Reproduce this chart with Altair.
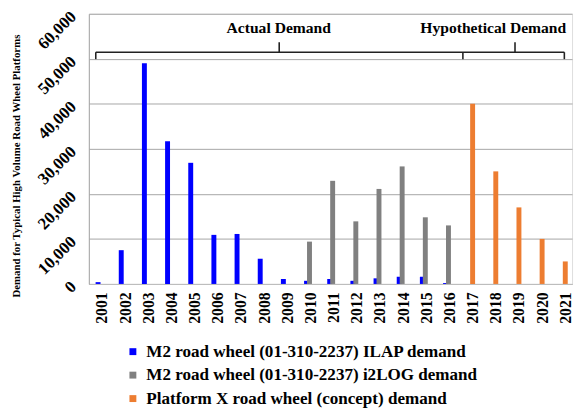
import altair as alt
import pandas as pd

# ---- data ----
years = list(range(2001, 2022))
ilap_years = list(range(2001, 2017))
ilap_values = [400, 7500, 49000, 31700, 26900, 10900, 11100, 5600, 1100, 700,
               1100, 700, 1250, 1600, 1600, 200]
i2log_years = list(range(2010, 2017))
i2log_values = [9400, 22900, 13900, 21100, 26100, 14800, 13000]
platx_years = list(range(2017, 2022))
platx_values = [40000, 25000, 17000, 10000, 5000]
series_names = ["M2 road wheel (01-310-2237) ILAP demand",
                "M2 road wheel (01-310-2237) i2LOG demand",
                "Platform X road wheel (concept) demand"]
series_colors = ["#0000ff", "#808080", "#ed7d31"]
y_ticks = [0, 10000, 20000, 30000, 40000, 50000, 60000]
y_title = "Demand for Typical High Volume Road Wheel Platforms"
brace_labels = ["Actual Demand", "Hypothetical Demand"]

rows = []
for yr, v in zip(ilap_years, ilap_values):
    rows.append({"year": yr, "value": v, "series": series_names[0]})
for yr, v in zip(i2log_years, i2log_values):
    rows.append({"year": yr, "value": v, "series": series_names[1]})
for yr, v in zip(platx_years, platx_values):
    rows.append({"year": yr, "value": v, "series": series_names[2]})
df = pd.DataFrame(rows)

# brace annotation (data units)
brace_y, hook_y, tip_y = 51460, 49920, 53650
left_end, cusp, right_end = 2000.73, 2016.58, 2020.96
mid_a, mid_h = 2008.65, 2018.83
segs = pd.DataFrame([
    {"year": left_end, "year2": right_end, "value": brace_y, "value2": brace_y},
    {"year": left_end, "year2": left_end, "value": hook_y, "value2": brace_y},
    {"year": cusp, "year2": cusp, "value": hook_y, "value2": brace_y},
    {"year": right_end, "year2": right_end, "value": hook_y, "value2": brace_y},
    {"year": mid_a, "year2": mid_a, "value": brace_y, "value2": tip_y},
    {"year": mid_h, "year2": mid_h, "value": brace_y, "value2": tip_y},
])
texts = pd.DataFrame([
    {"year": 2008.63, "value": 56930, "t": brace_labels[0]},
    {"year": 2017.89, "value": 56930, "t": brace_labels[1]},
])

FONT = "Liberation Serif"
xscale = alt.Scale(domain=[2000.645, 2021.08], nice=False, zero=False)
yscale = alt.Scale(domain=[0, 60000], nice=False)
color = alt.Color("series:N",
                  scale=alt.Scale(domain=series_names, range=series_colors),
                  sort=series_names,
                  legend=alt.Legend(title=None, orient="none", legendX=36, legendY=334,
                                    symbolType="square", symbolSize=49,
                                    symbolStrokeWidth=0, labelFont=FONT,
                                    labelFontSize=17.3, labelFontWeight="bold",
                                    labelColor="black", labelLimit=0,
                                    rowPadding=5.8, labelOffset=5, padding=0))

xaxis = alt.Axis(title=None, values=years, format="d", labelAngle=270,
                 labelAlign="right", labelBaseline="middle",
                 labelFont=FONT, labelFontSize=16, labelFontWeight="bold",
                 labelColor="black", labelPadding=8, ticks=False,
                 grid=False, domainColor="#bfbfbf", labelFlush=False,
                 labelOverlap=False)
yaxis = alt.Axis(title=y_title, values=y_ticks, format=",d",
                 labelAngle=315, labelAlign="right", labelBaseline="middle",
                 labelFont=FONT, labelFontSize=17, labelFontWeight="bold",
                 labelColor="black", labelPadding=16, ticks=False,
                 grid=True, gridColor="#a6a6a6", domainColor="#a6a6a6",
                 titleFont=FONT, titleFontSize=11, titleFontWeight="bold",
                 titleColor="black", titleX=-73, titleY=154,
                 titleBaseline="middle", titleAngle=270, labelFlush=False,
                 labelOverlap=False)
xenc = alt.X("year:Q", scale=xscale, axis=xaxis)
yenc = alt.Y("value:Q", scale=yscale, axis=yaxis)

base = alt.Chart(df)
offsets = [-4, -1, 0]
layers = []
for name, off in zip(series_names, offsets):
    layers.append(
        base.transform_filter(alt.datum.series == name)
        .mark_bar(width=5, xOffset=off)
        .encode(x=xenc, y=yenc, color=color)
    )

rules = alt.Chart(segs).mark_rule(color="#222222", strokeWidth=1.6).encode(
    x=xenc, x2="year2:Q", y=yenc, y2="value2:Q")
labels = alt.Chart(texts).mark_text(font=FONT, fontSize=15.8, fontWeight="bold",
                                    color="black", baseline="middle", align="center").encode(
    x=xenc, y=yenc, text="t:N")

chart = alt.layer(*layers, rules, labels).properties(
    width=490, height=274,
    autosize=alt.AutoSizeParams(type="none"),
    padding={"left": 82, "top": 3, "right": 4, "bottom": 126},
).configure_view(stroke="#a6a6a6", strokeWidth=1.5).configure(
    background="white"
).configure_axis(labelOverlap=False)

chart.save("out.html", embed_options={"renderer": "svg", "actions": False})
